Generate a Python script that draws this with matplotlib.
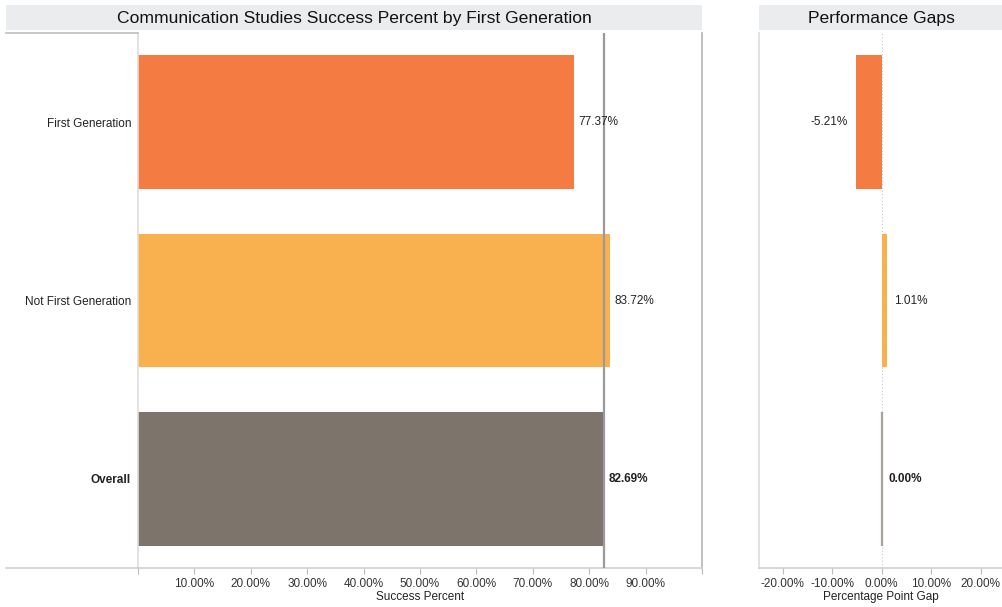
import matplotlib
matplotlib.use("Agg")
import matplotlib.pyplot as plt
from matplotlib.patches import Rectangle
from matplotlib.lines import Line2D
from matplotlib.ticker import FixedLocator, FuncFormatter

plt.rcParams['font.family'] = ['Liberation Sans', 'DejaVu Sans']

groups = ["First Generation", "Not First Generation", "Overall"]
success_pct = [0.7737, 0.8372, 0.8269]
gap_pct = [-0.0521, 0.0101, 0.0]
bar_colors = ["#F47B42", "#F8B14E", "#7D746B"]

W, H = 1003, 607
fig = plt.figure(figsize=(W / 100, H / 100), dpi=100)


def fx(px):
    return px / W


def fy(py):
    return 1 - py / H


# header bands
for x0, x1, title in [(6, 702, "Communication Studies Success Percent by First Generation"),
                      (759, 1003, "Performance Gaps")]:
    fig.patches.append(Rectangle((fx(x0), fy(30)), fx(x1 - x0), 25 / H,
                                 transform=fig.transFigure, facecolor="#EBECEE",
                                 edgecolor="none", zorder=0))
    fig.text(fx((x0 + x1) / 2), fy(18), title, ha="center", va="center",
             fontsize=12.6, color="#111111")

# row header frame lines
for yy, col in [(33, "#BDBDBD"), (568, "#CFCFCF")]:
    fig.lines.append(Line2D([fx(6), fx(138)], [fy(yy), fy(yy)], transform=fig.transFigure,
                            color=col, linewidth=1.2))

ax = fig.add_axes([fx(138), fy(568), fx(702 - 138), 535 / H])
ax2 = fig.add_axes([fx(759), fy(568), fx(1003 - 759), 535 / H])

ypos = list(range(len(groups)))

# success percent bars
ax.barh(ypos, success_pct, height=0.75, color=bar_colors, zorder=2)
ax.axvline(success_pct[2], color="#9A9A9A", linewidth=1.6, zorder=3)
for i, v in enumerate(success_pct):
    ax.text(v + 0.007, i, f"{v * 100:.2f}%", va="center", ha="left", fontsize=8.5,
            color="#222222", fontweight="bold" if groups[i] == "Overall" else "normal", zorder=4)

ax.set_xlim(0, 1.0)
ax.set_ylim(len(groups) - 0.5, -0.5)
ax.set_yticks(ypos)
ax.set_yticklabels(groups, fontsize=8.5, color="#222222")
ax.get_yticklabels()[2].set_fontweight("bold")
ax.tick_params(axis="y", length=0, pad=5)
ax.xaxis.set_major_locator(FixedLocator([i / 10 for i in range(11)]))
ax.xaxis.set_major_formatter(FuncFormatter(lambda v, p: f"{v * 100:.2f}%" if 0.05 < v < 0.95 else ""))
ax.tick_params(axis="x", length=4, color="#BBBBBB", labelsize=8.5, labelcolor="#333333", pad=3)
ax.set_xlabel("Success Percent", fontsize=8.5, color="#222222", labelpad=1)
ax.spines["top"].set_visible(False)
ax.spines["left"].set_color("#DDDDDD")
ax.spines["right"].set_color("#B5B5B5")
ax.spines["bottom"].set_color("#CFCFCF")
for s in ["left", "right", "bottom"]:
    ax.spines[s].set_linewidth(1.2)

# performance gap bars; the zero gap is drawn as an outline only
ax2.axvline(0, color="#C8C8C8", linewidth=0.8, linestyle=(0, (1, 2)), zorder=1)
ax2.barh(ypos, gap_pct, height=0.75, color=bar_colors,
         edgecolor=["none", "none", "#A8A29C"], linewidth=[0, 0, 1.6], zorder=2)
for i, v in enumerate(gap_pct):
    if v < 0:
        ax2.text(v - 0.016, i, f"{v * 100:.2f}%", va="center", ha="right", fontsize=8.5,
                 color="#222222")
    else:
        ax2.text(v + 0.014, i, f"{v * 100:.2f}%", va="center", ha="left", fontsize=8.5,
                 color="#222222", fontweight="bold" if groups[i] == "Overall" else "normal")

ax2.set_xlim(-0.248, 0.245)
ax2.set_ylim(len(groups) - 0.5, -0.5)
ax2.set_yticks([])
ax2.xaxis.set_major_locator(FixedLocator([-0.2, -0.1, 0, 0.1, 0.2]))
ax2.xaxis.set_major_formatter(FuncFormatter(lambda v, p: f"{v * 100:.2f}%"))
ax2.tick_params(axis="x", length=4, color="#BBBBBB", labelsize=8.5, labelcolor="#333333", pad=3)
ax2.set_xlabel("Percentage Point Gap", fontsize=8.5, color="#222222", labelpad=1)
ax2.spines["top"].set_visible(False)
ax2.spines["right"].set_visible(False)
ax2.spines["left"].set_color("#DDDDDD")
ax2.spines["bottom"].set_color("#CFCFCF")
for s in ["left", "bottom"]:
    ax2.spines[s].set_linewidth(1.2)

fig.savefig("out.png", dpi=100)
